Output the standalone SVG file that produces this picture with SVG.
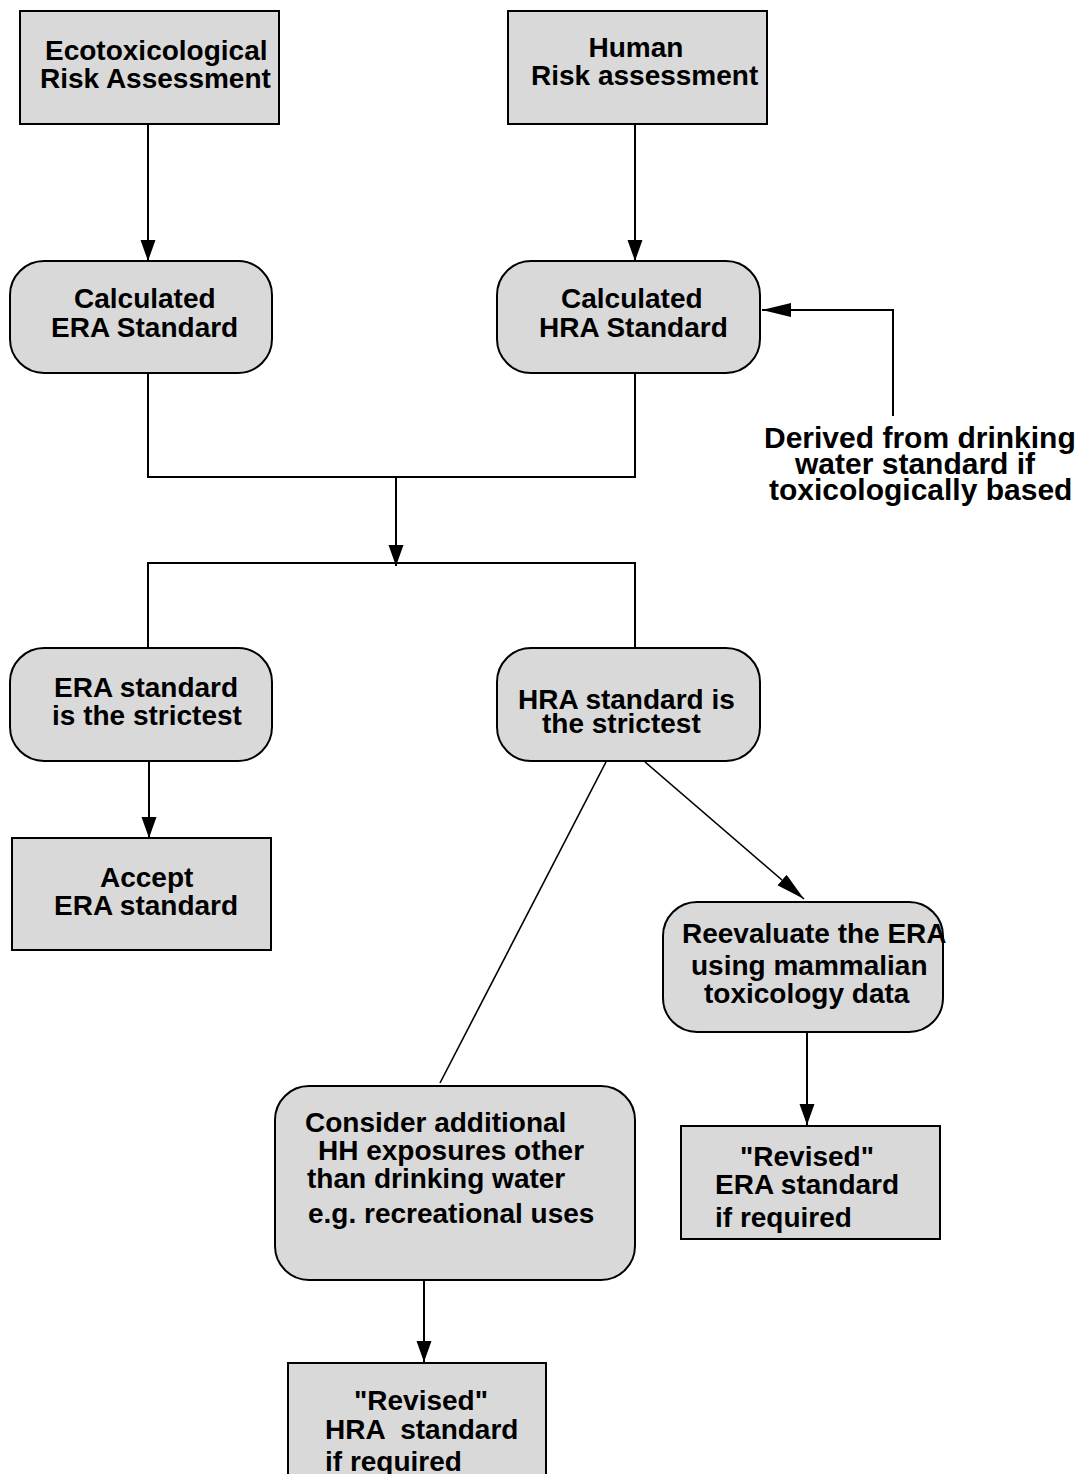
<svg xmlns="http://www.w3.org/2000/svg" width="1090" height="1474" viewBox="0 0 1090 1474">
<style>
.n{fill:#d9d9d9;stroke:#000;stroke-width:2}
.t{font-family:"Liberation Sans",Arial,Helvetica,sans-serif;font-weight:bold;font-size:28px;fill:#000}
.lb{font-size:30px}
.c{fill:none;stroke:#000;stroke-width:2}
.d{fill:none;stroke:#000;stroke-width:1.6}
</style>
<defs>
<marker id="arr" markerUnits="userSpaceOnUse" markerWidth="22" markerHeight="16" refX="21" refY="7.5" orient="auto">
<path d="M0,0 L21,7.5 L0,15 z" fill="#000"/>
</marker>
<marker id="arrL" markerUnits="userSpaceOnUse" markerWidth="30" markerHeight="15" refX="29" refY="7" orient="auto">
<path d="M0,0 L29,7 L0,14 z" fill="#000"/>
</marker>
</defs>
<rect width="1090" height="1474" fill="#fff"/>

<g id="connectors">
<line class="c" x1="148" y1="124" x2="148" y2="261" marker-end="url(#arr)"/>
<line class="c" x1="635" y1="124" x2="635" y2="261" marker-end="url(#arr)"/>
<polyline class="c" points="148,373 148,477 635,477 635,373"/>
<line class="c" x1="396" y1="477" x2="396" y2="566" marker-end="url(#arr)"/>
<polyline class="c" points="148,648 148,563 635,563 635,648"/>
<polyline class="c" points="893,416 893,310 762,310" marker-end="url(#arrL)"/>
<line class="c" x1="149" y1="762" x2="149" y2="838" marker-end="url(#arr)"/>
<line class="d" x1="606" y1="762" x2="440" y2="1083"/>
<line class="d" x1="645" y1="762" x2="804" y2="899" marker-end="url(#arrL)"/>
<line class="c" x1="807" y1="1032" x2="807" y2="1125" marker-end="url(#arr)"/>
<line class="c" x1="424" y1="1280" x2="424" y2="1362" marker-end="url(#arr)"/>
</g>

<g id="eco-risk">
<rect class="n" x="20" y="11" width="259" height="113"/>
<text class="t" x="45" y="60">Ecotoxicological</text>
<text class="t" x="40" y="88">Risk Assessment</text>
</g>

<g id="human-risk">
<rect class="n" x="508" y="11" width="259" height="113"/>
<text class="t" x="636" y="57" text-anchor="middle">Human</text>
<text class="t" x="531" y="85">Risk assessment</text>
</g>

<g id="calc-era">
<rect class="n" x="10" y="261" width="262" height="112" rx="34" ry="34"/>
<text class="t" x="74" y="308">Calculated</text>
<text class="t" x="51" y="337">ERA Standard</text>
</g>

<g id="calc-hra">
<rect class="n" x="497" y="261" width="263" height="112" rx="34" ry="34"/>
<text class="t" x="561" y="308">Calculated</text>
<text class="t" x="539" y="337">HRA Standard</text>
</g>

<g id="drinking-label">
<text class="t lb" x="764" y="448">Derived from drinking</text>
<text class="t lb" x="795" y="474">water standard if</text>
<text class="t lb" x="769" y="500">toxicologically based</text>
</g>

<g id="era-strictest">
<rect class="n" x="10" y="648" width="262" height="113" rx="34" ry="34"/>
<text class="t" x="54" y="697">ERA standard</text>
<text class="t" x="52" y="725">is the strictest</text>
</g>

<g id="hra-strictest">
<rect class="n" x="497" y="648" width="263" height="113" rx="34" ry="34"/>
<text class="t" x="518" y="709">HRA standard is</text>
<text class="t" x="542" y="733">the strictest</text>
</g>

<g id="accept-era">
<rect class="n" x="12" y="838" width="259" height="112"/>
<text class="t" x="100" y="887">Accept</text>
<text class="t" x="54" y="915">ERA standard</text>
</g>

<g id="reevaluate">
<rect class="n" x="663" y="902" width="280" height="130" rx="34" ry="34"/>
<text class="t" x="682" y="943">Reevaluate the ERA</text>
<text class="t" x="691" y="975">using mammalian</text>
<text class="t" x="704" y="1003">toxicology data</text>
</g>

<g id="revised-era">
<rect class="n" x="681" y="1126" width="259" height="113"/>
<text class="t" x="740" y="1166">"Revised"</text>
<text class="t" x="715" y="1194">ERA standard</text>
<text class="t" x="715" y="1227">if required</text>
</g>

<g id="consider">
<rect class="n" x="275" y="1086" width="360" height="194" rx="34" ry="34"/>
<text class="t" x="305" y="1132">Consider additional</text>
<text class="t" x="318" y="1160">HH exposures other</text>
<text class="t" x="307" y="1188">than drinking water</text>
<text class="t" x="308" y="1223">e.g. recreational uses</text>
</g>

<g id="revised-hra">
<rect class="n" x="288" y="1363" width="258" height="130"/>
<text class="t" x="354" y="1410">"Revised"</text>
<text class="t" x="325" y="1439" style="white-space:pre">HRA  standard</text>
<text class="t" x="325" y="1471">if required</text>
</g>
</svg>
